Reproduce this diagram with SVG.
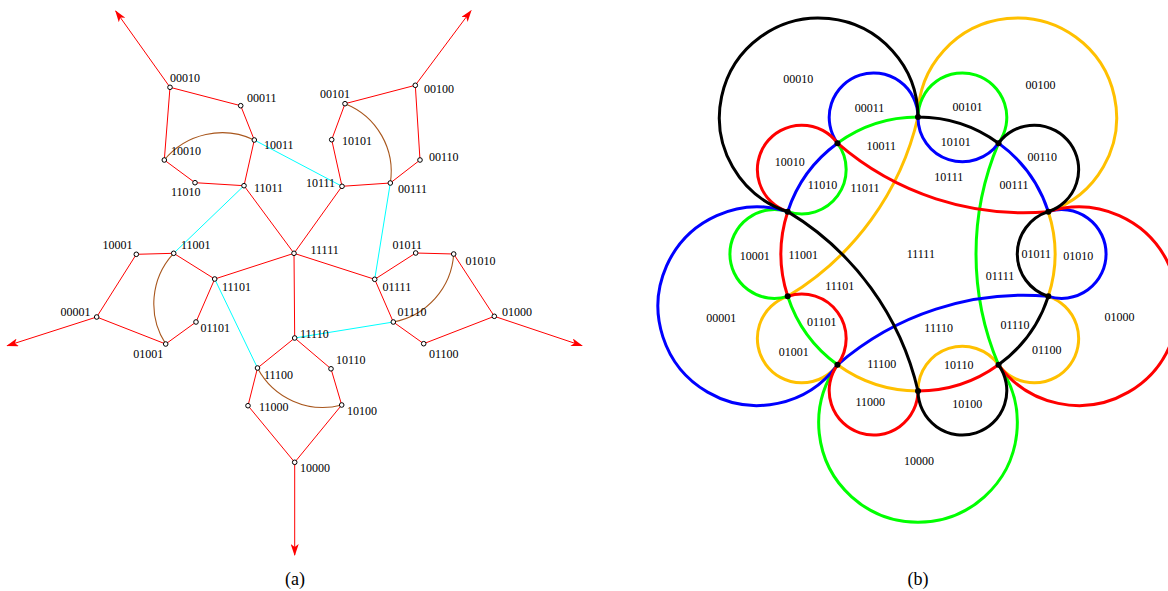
<svg xmlns="http://www.w3.org/2000/svg" width="1168" height="591" viewBox="0 0 1168 591">
<style>
.e{stroke:#ff0000;stroke-width:1;fill:none}
.c{stroke:#00ffff;stroke-width:1;fill:none}
.b{stroke:#a8561c;stroke-width:1.1;fill:none}
.a{stroke:#ff0000;stroke-width:1;fill:none;marker-end:url(#arr)}
.n{fill:#fff;stroke:#000;stroke-width:1}
.t{font-family:"Liberation Serif","Times New Roman",serif;font-size:12px;fill:#000}
.r{font-family:"Liberation Serif","Times New Roman",serif;font-size:12px;fill:#000;text-anchor:middle}
.cap{font-family:"Liberation Serif","Times New Roman",serif;font-size:18px;fill:#000;text-anchor:middle}
.v{fill:none;stroke-width:3}
</style>
<defs>
<marker id="arr" viewBox="0 0 12 8" refX="11" refY="4" markerWidth="12" markerHeight="8" markerUnits="userSpaceOnUse" orient="auto"><path d="M0,0 L12,4 L0,8 L3,4 z" fill="#ff0000"/></marker>
<path id="curve" d="M 787.70 211.66 A 99.3 99.3 0 1 1 918 117 A 137 137 0 0 1 998.53 143.17 A 44.4 44.4 0 1 1 1048.30 211.66 A 44.4 44.4 0 0 0 1048.30 296.34 A 137 137 0 0 1 998.53 364.83 A 44.4 44.4 0 1 1 918 391 A 284 284 0 0 0 787.70 211.66 Z"/>
</defs>
<rect width="1168" height="591" fill="#fff"/>
<g id="connectors">
<line class="e" x1="170" y1="87.3" x2="240.7" y2="105.7"/>
<line class="e" x1="170" y1="87.3" x2="164.3" y2="160"/>
<line class="e" x1="240.7" y1="105.7" x2="254.3" y2="140"/>
<line class="e" x1="254.3" y1="140" x2="244" y2="185.7"/>
<line class="e" x1="164.3" y1="160" x2="195" y2="182.7"/>
<line class="e" x1="195" y1="182.7" x2="244" y2="185.7"/>
<line class="e" x1="244" y1="185.7" x2="294" y2="253.3"/>
<line class="e" x1="345" y1="103.7" x2="415.3" y2="85.3"/>
<line class="e" x1="345" y1="103.7" x2="331.7" y2="139.7"/>
<line class="e" x1="331.7" y1="139.7" x2="342" y2="186.3"/>
<line class="e" x1="342" y1="186.3" x2="390.3" y2="183"/>
<line class="e" x1="390.3" y1="183" x2="420" y2="160"/>
<line class="e" x1="420" y1="160" x2="415.3" y2="85.3"/>
<line class="e" x1="342" y1="186.3" x2="294" y2="253.3"/>
<line class="e" x1="136.3" y1="254.3" x2="173.7" y2="253.3"/>
<line class="e" x1="136.3" y1="254.3" x2="96.7" y2="317"/>
<line class="e" x1="96.7" y1="317" x2="165.7" y2="344"/>
<line class="e" x1="165.7" y1="344" x2="196" y2="322"/>
<line class="e" x1="196" y1="322" x2="214.7" y2="279"/>
<line class="e" x1="214.7" y1="279" x2="173.7" y2="253.3"/>
<line class="e" x1="214.7" y1="279" x2="294" y2="253.3"/>
<line class="e" x1="415.7" y1="253" x2="453.7" y2="254"/>
<line class="e" x1="415.7" y1="253" x2="374.7" y2="279.3"/>
<line class="e" x1="374.7" y1="279.3" x2="393.3" y2="322"/>
<line class="e" x1="393.3" y1="322" x2="423.7" y2="343.7"/>
<line class="e" x1="423.7" y1="343.7" x2="494.3" y2="316.3"/>
<line class="e" x1="494.3" y1="316.3" x2="453.7" y2="254"/>
<line class="e" x1="374.7" y1="279.3" x2="294" y2="253.3"/>
<line class="e" x1="294.7" y1="338" x2="257.5" y2="368"/>
<line class="e" x1="294.7" y1="338" x2="331" y2="368.8"/>
<line class="e" x1="331" y1="368.8" x2="341.7" y2="405"/>
<line class="e" x1="341.7" y1="405" x2="294.7" y2="462.3"/>
<line class="e" x1="294.7" y1="462.3" x2="248" y2="405.7"/>
<line class="e" x1="248" y1="405.7" x2="257.5" y2="368"/>
<line class="e" x1="294.7" y1="338" x2="294" y2="253.3"/>
<line class="c" x1="254.3" y1="140" x2="342" y2="186.3"/>
<line class="c" x1="244" y1="185.7" x2="173.7" y2="253.3"/>
<line class="c" x1="214.7" y1="279" x2="257.5" y2="368"/>
<line class="c" x1="374.7" y1="279.3" x2="390.3" y2="183"/>
<line class="c" x1="393.3" y1="322" x2="294.7" y2="338"/>
<path class="b" d="M164.3 160 A 75 75 0 0 1 254.3 140"/>
<path class="b" d="M345 103.7 A 73 73 0 0 1 390.3 183"/>
<path class="b" d="M173.7 253.3 A 74 74 0 0 0 165.7 344"/>
<path class="b" d="M453.7 254 A 74 74 0 0 1 393.3 322"/>
<path class="b" d="M257.5 368 A 74 74 0 0 0 341.7 405"/>
<line class="a" x1="170" y1="87.3" x2="115.7" y2="11"/>
<line class="a" x1="415.3" y1="85.3" x2="471" y2="10.7"/>
<line class="a" x1="96.7" y1="317" x2="7.3" y2="345.7"/>
<line class="a" x1="494.3" y1="316.3" x2="582" y2="345.7"/>
<line class="a" x1="294.7" y1="462.3" x2="294.7" y2="555"/>
</g>
<g id="n00010"><circle class="n" cx="170" cy="87.3" r="2.3"/><text class="t" x="170" y="82">00010</text></g>
<g id="n00011"><circle class="n" cx="240.7" cy="105.7" r="2.3"/><text class="t" x="247" y="102">00011</text></g>
<g id="n10011"><circle class="n" cx="254.3" cy="140" r="2.3"/><text class="t" x="264" y="149">10011</text></g>
<g id="n10010"><circle class="n" cx="164.3" cy="160" r="2.3"/><text class="t" x="171" y="155">10010</text></g>
<g id="n11010"><circle class="n" cx="195" cy="182.7" r="2.3"/><text class="t" x="171" y="196">11010</text></g>
<g id="n11011"><circle class="n" cx="244" cy="185.7" r="2.3"/><text class="t" x="254" y="192">11011</text></g>
<g id="n00101"><circle class="n" cx="345" cy="103.7" r="2.3"/><text class="t" x="320" y="98">00101</text></g>
<g id="n00100"><circle class="n" cx="415.3" cy="85.3" r="2.3"/><text class="t" x="424" y="93">00100</text></g>
<g id="n10101"><circle class="n" cx="331.7" cy="139.7" r="2.3"/><text class="t" x="342" y="145">10101</text></g>
<g id="n00110"><circle class="n" cx="420" cy="160" r="2.3"/><text class="t" x="429" y="161">00110</text></g>
<g id="n10111"><circle class="n" cx="342" cy="186.3" r="2.3"/><text class="t" x="306" y="187">10111</text></g>
<g id="n00111"><circle class="n" cx="390.3" cy="183" r="2.3"/><text class="t" x="398" y="193">00111</text></g>
<g id="n10001"><circle class="n" cx="136.3" cy="254.3" r="2.3"/><text class="t" x="102.5" y="249">10001</text></g>
<g id="n11001"><circle class="n" cx="173.7" cy="253.3" r="2.3"/><text class="t" x="181" y="249">11001</text></g>
<g id="n11101"><circle class="n" cx="214.7" cy="279" r="2.3"/><text class="t" x="222" y="291">11101</text></g>
<g id="n00001"><circle class="n" cx="96.7" cy="317" r="2.3"/><text class="t" x="60.5" y="316">00001</text></g>
<g id="n01101"><circle class="n" cx="196" cy="322" r="2.3"/><text class="t" x="200.5" y="332">01101</text></g>
<g id="n01001"><circle class="n" cx="165.7" cy="344" r="2.3"/><text class="t" x="133.3" y="358">01001</text></g>
<g id="n11111"><circle class="n" cx="294" cy="253.3" r="2.3"/><text class="t" x="310.5" y="254">11111</text></g>
<g id="n01011"><circle class="n" cx="415.7" cy="253" r="2.3"/><text class="t" x="392.5" y="249">01011</text></g>
<g id="n01010"><circle class="n" cx="453.7" cy="254" r="2.3"/><text class="t" x="465.5" y="265">01010</text></g>
<g id="n01111"><circle class="n" cx="374.7" cy="279.3" r="2.3"/><text class="t" x="382.5" y="291">01111</text></g>
<g id="n01110"><circle class="n" cx="393.3" cy="322" r="2.3"/><text class="t" x="397.5" y="316">01110</text></g>
<g id="n01000"><circle class="n" cx="494.3" cy="316.3" r="2.3"/><text class="t" x="502" y="316">01000</text></g>
<g id="n11110"><circle class="n" cx="294.7" cy="338" r="2.3"/><text class="t" x="300" y="338">11110</text></g>
<g id="n01100"><circle class="n" cx="423.7" cy="343.7" r="2.3"/><text class="t" x="429" y="358">01100</text></g>
<g id="n10110"><circle class="n" cx="331" cy="368.8" r="2.3"/><text class="t" x="336" y="364">10110</text></g>
<g id="n11100"><circle class="n" cx="257.5" cy="368" r="2.3"/><text class="t" x="264" y="379">11100</text></g>
<g id="n11000"><circle class="n" cx="248" cy="405.7" r="2.3"/><text class="t" x="259" y="411">11000</text></g>
<g id="n10100"><circle class="n" cx="341.7" cy="405" r="2.3"/><text class="t" x="347" y="415">10100</text></g>
<g id="n10000"><circle class="n" cx="294.7" cy="462.3" r="2.3"/><text class="t" x="300" y="472">10000</text></g>
<text class="cap" x="295" y="585">(a)</text>
<g id="venn">
<use href="#curve" class="v" stroke="#ffc000" transform="rotate(72 918 254)"/>
<use href="#curve" class="v" stroke="#00ff00" transform="rotate(216 918 254)"/>
<use href="#curve" class="v" stroke="#0000ff" transform="rotate(288 918 254)"/>
<use href="#curve" class="v" stroke="#ff0000" transform="rotate(144 918 254)"/>
<use href="#curve" class="v" stroke="#000000"/>
</g>
<g id="points" fill="#000">
<circle cx="918" cy="117" r="3"/>
<circle cx="998.53" cy="143.17" r="3"/>
<circle cx="1048.3" cy="211.66" r="3"/>
<circle cx="1048.3" cy="296.34" r="3"/>
<circle cx="998.53" cy="364.83" r="3"/>
<circle cx="918" cy="391" r="3"/>
<circle cx="837.47" cy="364.83" r="3"/>
<circle cx="787.7" cy="296.34" r="3"/>
<circle cx="787.7" cy="211.66" r="3"/>
<circle cx="837.47" cy="143.17" r="3"/>
</g>
<g id="regions">
<text class="r" x="798.3" y="83">00010</text>
<text class="r" x="869.5" y="112">00011</text>
<text class="r" x="881.3" y="150">10011</text>
<text class="r" x="789.8" y="166">10010</text>
<text class="r" x="822.5" y="189">11010</text>
<text class="r" x="865" y="192">11011</text>
<text class="r" x="1040.5" y="89">00100</text>
<text class="r" x="967.5" y="111">00101</text>
<text class="r" x="955.8" y="146">10101</text>
<text class="r" x="1042.2" y="161">00110</text>
<text class="r" x="948.8" y="181">10111</text>
<text class="r" x="1014" y="189">00111</text>
<text class="r" x="754.7" y="260">10001</text>
<text class="r" x="803.3" y="259">11001</text>
<text class="r" x="839.7" y="290">11101</text>
<text class="r" x="721.3" y="322">00001</text>
<text class="r" x="821.7" y="326">01101</text>
<text class="r" x="793.7" y="356">01001</text>
<text class="r" x="881.7" y="368">11100</text>
<text class="r" x="870.3" y="406">11000</text>
<text class="r" x="920.8" y="258">11111</text>
<text class="r" x="1036.3" y="258">01011</text>
<text class="r" x="1078.3" y="260">01010</text>
<text class="r" x="1000" y="280">01111</text>
<text class="r" x="1119.5" y="321">01000</text>
<text class="r" x="938.7" y="332">11110</text>
<text class="r" x="1015" y="329">01110</text>
<text class="r" x="1046.8" y="354">01100</text>
<text class="r" x="958.7" y="369">10110</text>
<text class="r" x="967.3" y="408">10100</text>
<text class="r" x="919" y="465">10000</text>
</g>
<text class="cap" x="918" y="585">(b)</text>
</svg>
